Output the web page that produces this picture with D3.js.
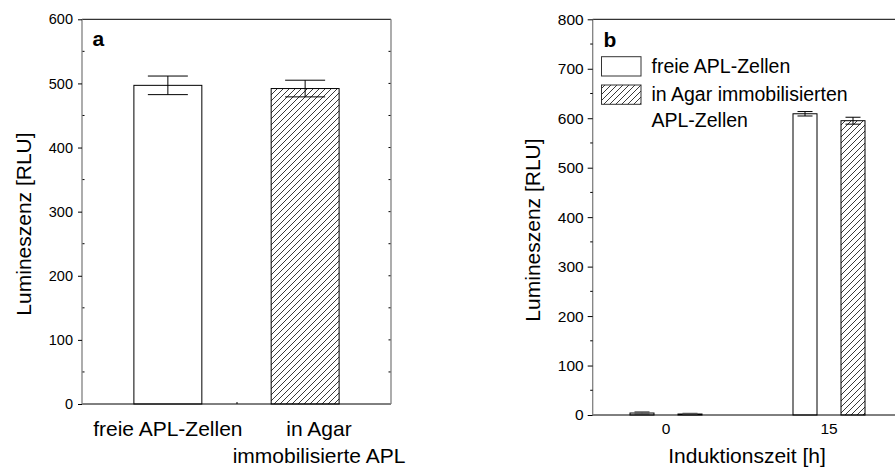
<!DOCTYPE html>
<html><head><meta charset="utf-8">
<script src="https://cdn.jsdelivr.net/npm/d3@7"></script>
<style>
html,body{margin:0;padding:0;background:#fff;}
svg{display:block;font-family:"Liberation Sans",Arial,sans-serif;}
</style></head>
<body><svg id="c" width="895" height="468"></svg>
<script>
// ---- Data ----
const catsA = ["freie APL-Zellen", "in Agar immobilisierte APL"];
const labelsA = [["freie APL-Zellen"], ["in Agar", "immobilisierte APL"]];
const valuesA = [497, 492];
const errorsA = [14.5, 13];
const ticksA = [0, 100, 200, 300, 400, 500, 600];

const timesB = ["0", "15"];
const seriesB = ["freie APL-Zellen", "in Agar immobilisierten APL-Zellen"];
const freeB = [4, 609];
const freeErrB = [2, 4.5];
const agarB = [2, 595];
const agarErrB = [1, 7];
const ticksB = [0, 100, 200, 300, 400, 500, 600, 700, 800];
const legendLines = [["freie APL-Zellen"], ["in Agar immobilisierten", "APL-Zellen"]];

const svg = d3.select("#c");
const defs = svg.append("defs");
const pat = defs.append("pattern").attr("id","hatch").attr("patternUnits","userSpaceOnUse")
  .attr("width",6).attr("height",6);
pat.append("path").attr("d","M-1,7 L7,-1 M-4,4 L4,-4 M2,10 L10,2")
  .attr("stroke","#222").attr("stroke-width",0.9);

const grey = "#808080";

// ================= Panel a =================
{
  const L = 82, R = 391, T = 19.3, B = 404;
  const y = d3.scaleLinear().domain([0, 600]).range([B, T]);
  const x = d3.scaleBand().domain(catsA).range([L, R]).paddingInner(0.505).paddingOuter(0.378);
  const g = svg.append("g");

  // bars
  g.selectAll("rect.bar").data(catsA).join("rect")
    .attr("x", d => x(d)).attr("width", x.bandwidth())
    .attr("y", (d,i) => y(valuesA[i])).attr("height", (d,i) => B - y(valuesA[i]))
    .attr("fill", (d,i) => i === 0 ? "#fff" : "url(#hatch)")
    .attr("stroke", "#000").attr("stroke-width", 1);

  // error bars
  catsA.forEach((c,i) => {
    const cx = x(c) + x.bandwidth()/2;
    const hi = y(valuesA[i] + errorsA[i]), lo = y(valuesA[i] - errorsA[i]);
    g.append("line").attr("x1",cx).attr("x2",cx).attr("y1",hi).attr("y2",lo).attr("stroke","#000");
    [hi, lo].forEach(yy => g.append("line").attr("x1",cx-20).attr("x2",cx+20).attr("y1",yy).attr("y2",yy).attr("stroke","#000"));
  });

  // frame
  g.append("line").attr("x1",L).attr("x2",R).attr("y1",T).attr("y2",T).attr("stroke","#000");
  g.append("line").attr("x1",L).attr("x2",R).attr("y1",B).attr("y2",B).attr("stroke","#000");
  g.append("line").attr("x1",L).attr("x2",L).attr("y1",T).attr("y2",B).attr("stroke",grey).attr("stroke-width",1.3);
  g.append("line").attr("x1",R).attr("x2",R).attr("y1",T).attr("y2",B).attr("stroke",grey).attr("stroke-width",1.3);

  // y axis
  const ax = g.append("g").attr("transform", `translate(${L},0)`)
    .call(d3.axisLeft(y).tickValues(ticksA).tickSize(4).tickPadding(5).tickFormat(d3.format("d")));
  ax.select(".domain").remove();
  ax.selectAll("text").attr("font-size","14.5px").attr("fill","#000").attr("font-family","Liberation Sans, Arial, sans-serif");
  // minor ticks inside
  const minors = d3.range(50, 600, 100);
  g.selectAll("line.mn").data(minors).join("line").attr("x1",L+0.5).attr("x2",L+2.5)
    .attr("y1",d=>y(d)).attr("y2",d=>y(d)).attr("stroke","#000");
  // right ticks
  g.selectAll("line.rt").data(d3.range(50, 600, 50)).join("line").attr("x1",R-2.5).attr("x2",R-0.5)
    .attr("y1",d=>y(d)).attr("y2",d=>y(d)).attr("stroke","#000");
  // middle bottom tick
  g.append("line").attr("x1",(L+R)/2 - 0.5 + 1).attr("x2",(L+R)/2 + 0.5).attr("y1",B).attr("y2",B-2).attr("stroke","#000");

  // x labels
  labelsA.forEach((lines,i) => {
    const cx = i === 0 ? x(catsA[i]) + x.bandwidth()/2 : 319;
    lines.forEach((t,j) => {
      g.append("text").attr("x",cx).attr("y",436 + j*27).attr("text-anchor","middle")
        .attr("font-size","21px").attr("fill","#000").text(t);
    });
  });

  // y title
  g.append("text").attr("transform","translate(31,224) rotate(-90)").attr("text-anchor","middle")
    .attr("font-size","21px").attr("fill","#000").text("Lumineszenz [RLU]");

  g.append("text").attr("x",92.5).attr("y",45.5).attr("font-size","21px").attr("font-weight","bold").text("a");
}

// ================= Panel b =================
{
  const L = 592.7, R = 895, T = 19.3, B = 415;
  const y = d3.scaleLinear().domain([0, 800]).range([B, T]);
  const x = d3.scaleBand().domain(timesB).range([584.5, 910.5]).padding(0);
  const xs = d3.scaleBand().domain(seriesB).range([-36, 36]).paddingInner(0.5).paddingOuter(0);
  const g = svg.append("g");

  const vals = [freeB, agarB], errs = [freeErrB, agarErrB];
  seriesB.forEach((s,si) => {
    timesB.forEach((t,ti) => {
      const cx0 = x(t) + x.bandwidth()/2;
      const bx = cx0 + xs(s);
      const v = vals[si][ti];
      g.append("rect").attr("x",bx).attr("width",xs.bandwidth())
        .attr("y",y(v)).attr("height",B - y(v))
        .attr("fill", si === 0 ? "#fff" : "url(#hatch)")
        .attr("stroke", "#000").attr("stroke-width",1);
      const cx = bx + xs.bandwidth()/2;
      const hi = y(v + errs[si][ti]), lo = y(v - errs[si][ti]);
      const col = ti === 0 ? "#555" : "#000";
      g.append("line").attr("x1",cx).attr("x2",cx).attr("y1",hi).attr("y2",lo).attr("stroke",col);
      [hi, lo].forEach(yy => g.append("line").attr("x1",cx-7.5).attr("x2",cx+7.5).attr("y1",yy).attr("y2",yy).attr("stroke",col).attr("stroke-width", ti===0?1.5:1));
    });
  });

  // frame
  g.append("line").attr("x1",L).attr("x2",R).attr("y1",T).attr("y2",T).attr("stroke","#000");
  g.append("line").attr("x1",L).attr("x2",R).attr("y1",B).attr("y2",B).attr("stroke","#000");
  g.append("line").attr("x1",L).attr("x2",L).attr("y1",T).attr("y2",B).attr("stroke",grey).attr("stroke-width",1.3);

  const ax = g.append("g").attr("transform", `translate(${L},0)`)
    .call(d3.axisLeft(y).tickValues(ticksB).tickSize(5).tickPadding(4).tickFormat(d3.format("d")));
  ax.select(".domain").remove();
  ax.selectAll("text").attr("font-size","15.5px").attr("fill","#000").attr("font-family","Liberation Sans, Arial, sans-serif");
  g.selectAll("line.mn").data(d3.range(50, 800, 100)).join("line").attr("x1",L-2.5).attr("x2",L)
    .attr("y1",d=>y(d)).attr("y2",d=>y(d)).attr("stroke","#000");

  // x tick labels
  timesB.forEach(t => {
    g.append("text").attr("x", x(t) + x.bandwidth()/2).attr("y",433.5).attr("text-anchor","middle")
      .attr("font-size","15.5px").attr("fill","#000").text(t);
  });
  g.append("text").attr("x",747).attr("y",463).attr("text-anchor","middle")
    .attr("font-size","21px").attr("fill","#000").text("Induktionszeit [h]");

  g.append("text").attr("transform","translate(540,230) rotate(-90)").attr("text-anchor","middle")
    .attr("font-size","21px").attr("fill","#000").text("Lumineszenz [RLU]");

  g.append("text").attr("x",603.5).attr("y",47).attr("font-size","21px").attr("font-weight","bold").text("b");

  // legend
  const lg = g.append("g");
  seriesB.forEach((s,i) => {
    const by = i === 0 ? 56.7 : 85;
    lg.append("rect").attr("x",601.5).attr("y",by).attr("width",39.5).attr("height",19.3)
      .attr("fill", i === 0 ? "#fff" : "url(#hatch)").attr("stroke","#333").attr("stroke-width",1);
  });
  const baselines = [[72.7],[100.7,126.7]];
  legendLines.forEach((lines,i) => lines.forEach((t,j) => {
    lg.append("text").attr("x",651.5).attr("y",baselines[i][j]).attr("font-size","19.5px").attr("fill","#000").text(t);
  }));
}
</script></body></html>
